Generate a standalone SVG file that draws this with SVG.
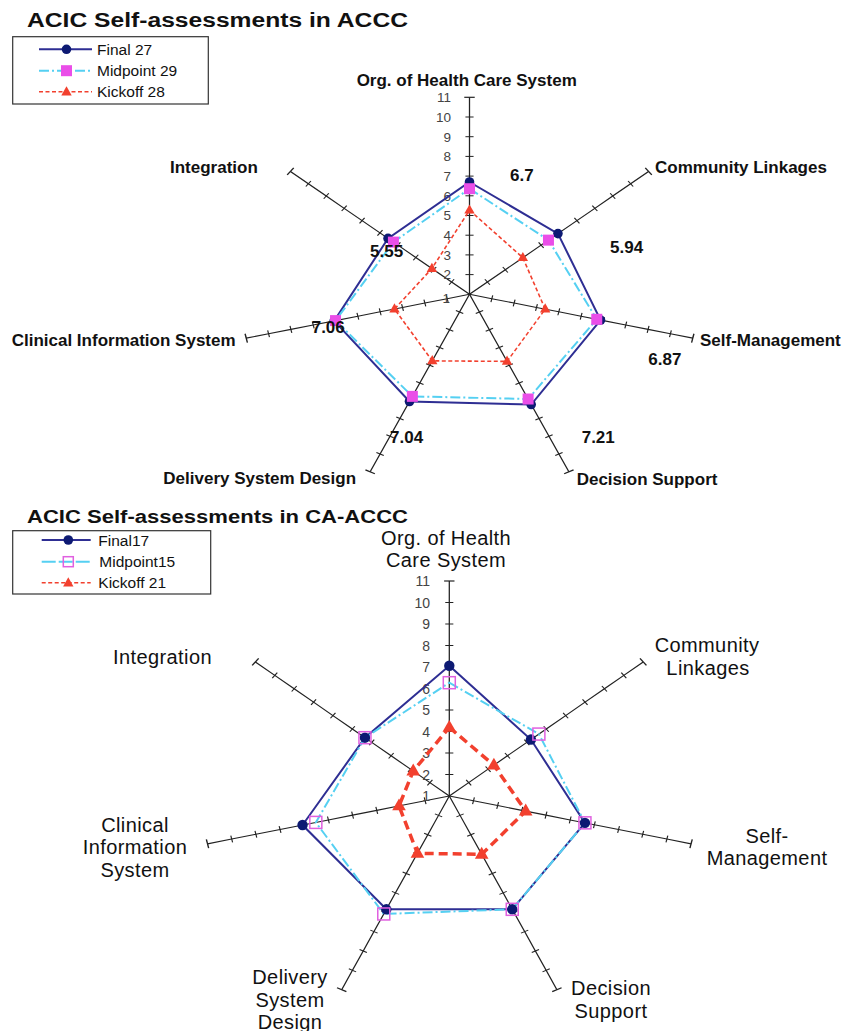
<svg xmlns="http://www.w3.org/2000/svg" xmlns:xlink="http://www.w3.org/1999/xlink" width="845" height="1031" viewBox="0 0 845 1031">
<style>
text{font-family:"Liberation Sans",Arial,Helvetica,sans-serif;fill:#111}
.ttl{font-weight:bold}
.lb{font-weight:bold;font-size:17px}
.lb2{font-size:20px;letter-spacing:0.4px;text-anchor:middle}
.num{font-size:13.5px;fill:#444;text-anchor:end}
.num2{font-size:14px;fill:#444;text-anchor:end}
.leg{font-size:15.5px}
.ax{fill:none;stroke:#222;stroke-width:1.1}
.box{fill:#fff;stroke:#333;stroke-width:1.2}
.fin{fill:none;stroke:#2e2e93;stroke-width:2}
.mid{fill:none;stroke:#55d0f2;stroke-width:2;stroke-dasharray:10 3 2 3}
.kick{fill:none;stroke:#f2402e;stroke-width:1.6;stroke-dasharray:4 2.5}
.kick2{fill:none;stroke:#f2402e;stroke-width:3.5;stroke-dasharray:9 5}
.dot{fill:#0d1a73}
.sq{fill:#ea4ee8}
.osq{fill:none;stroke:#e060e0;stroke-width:1.5}
.tri{fill:#f2402e}
</style>
<defs>
<marker id="tk" markerUnits="userSpaceOnUse" orient="auto" overflow="visible" markerWidth="1" markerHeight="1"><line x1="0" y1="-3.5" x2="0" y2="3.5" stroke="#222" stroke-width="1"/></marker>
<marker id="cap" markerUnits="userSpaceOnUse" orient="auto" overflow="visible" markerWidth="1" markerHeight="1"><line x1="0" y1="-4.5" x2="0" y2="4.5" stroke="#222" stroke-width="1.2"/></marker>
<polyline id="axT" class="ax" points="0,0 0,-19.7 0,-39.4 0,-59.1 0,-78.8 0,-98.5 0,-118.2 0,-137.9 0,-157.6 0,-177.3 0,-197" marker-mid="url(#tk)" marker-end="url(#cap)"/>
<polyline id="axB" class="ax" points="0,0 0,-21.5 0,-43 0,-64.5 0,-86 0,-107.5 0,-129 0,-150.5 0,-172 0,-193.5 0,-215" marker-mid="url(#tk)" marker-end="url(#cap)"/>
<circle id="dotT" r="4.8"/>
<circle id="dotB" r="5.2"/>
<rect id="sqT" x="-5.5" y="-5.5" width="11" height="11"/>
<rect id="sqB" x="-6" y="-6" width="12" height="12"/>
<path id="triT" d="M0,-5.8 L5.2,3.4 L-5.2,3.4Z"/>
<path id="triB" d="M0,-7.5 L6.8,4.4 L-6.8,4.4Z"/>
</defs>

<!-- ================= TOP CHART ================= -->
<g id="chart-top">
<text id="title-top" class="ttl" x="27" y="26.5" font-size="20" textLength="381" lengthAdjust="spacingAndGlyphs">ACIC Self-assessments in ACCC</text>

<g id="legend-top">
<rect class="box" x="12.7" y="36.7" width="195.6" height="67.3"/>
<line class="fin" x1="39" y1="49.3" x2="92" y2="49.3"/>
<use href="#dotT" x="66.5" y="49.3" class="dot"/>
<text class="leg" x="97" y="54.8">Final 27</text>
<line class="mid" x1="39" y1="70.7" x2="92" y2="70.7"/>
<use href="#sqT" x="66.5" y="70.7" class="sq"/>
<text class="leg" x="97" y="76.2">Midpoint 29</text>
<line class="kick" x1="39" y1="91.7" x2="92" y2="91.7"/>
<use href="#triT" x="66.5" y="92" class="tri"/>
<text class="leg" x="97" y="97.2">Kickoff 28</text>
</g>

<g id="axes-top" transform="translate(469.5 294.3) scale(1.1624 1)">
<use href="#axT"/>
<use href="#axT" transform="rotate(51.4286)"/>
<use href="#axT" transform="rotate(102.857)"/>
<use href="#axT" transform="rotate(154.286)"/>
<use href="#axT" transform="rotate(205.714)"/>
<use href="#axT" transform="rotate(257.143)"/>
<use href="#axT" transform="rotate(308.571)"/>
</g>

<g id="scale-top">
<text class="num" x="450" y="302.5">1</text>
<text class="num" x="451" y="279.4">2</text>
<text class="num" x="451" y="259.7">3</text>
<text class="num" x="451" y="240.0">4</text>
<text class="num" x="451" y="220.3">5</text>
<text class="num" x="451" y="200.6">6</text>
<text class="num" x="451" y="180.9">7</text>
<text class="num" x="451" y="161.2">8</text>
<text class="num" x="451" y="141.5">9</text>
<text class="num" x="451" y="121.8">10</text>
<text class="num" x="451" y="102.1">11</text>
</g>

<g id="series-top">
<polygon class="fin" points="469.5,182.0 557.95,233.62 600.55,320.03 531.2,404.52 409.49,401.5 334.2,320.87 388.04,238.41"/>
<polygon class="mid" points="469.5,188.71 548.46,240.13 596.76,319.29 528.12,399.02 412.37,396.36 335.54,320.6 393.41,242.1"/>
<polygon class="kick" points="469.5,210.18 522.85,257.7 545.19,309.16 507.06,361.39 432.24,360.86 394.48,309.03 431.9,268.51"/>
<g class="dot">
<use href="#dotT" x="469.5" y="182.0"/><use href="#dotT" x="557.95" y="233.62"/><use href="#dotT" x="600.55" y="320.03"/><use href="#dotT" x="531.2" y="404.52"/><use href="#dotT" x="409.49" y="401.5"/><use href="#dotT" x="334.2" y="320.87"/><use href="#dotT" x="388.04" y="238.41"/>
</g>
<g class="sq">
<use href="#sqT" x="469.5" y="188.71"/><use href="#sqT" x="548.46" y="240.13"/><use href="#sqT" x="596.76" y="319.29"/><use href="#sqT" x="528.12" y="399.02"/><use href="#sqT" x="412.37" y="396.36"/><use href="#sqT" x="335.54" y="320.6"/><use href="#sqT" x="393.41" y="242.1"/>
</g>
<g class="tri">
<use href="#triT" x="469.5" y="210.18"/><use href="#triT" x="522.85" y="257.7"/><use href="#triT" x="545.19" y="309.16"/><use href="#triT" x="507.06" y="361.39"/><use href="#triT" x="432.24" y="360.86"/><use href="#triT" x="394.48" y="309.03"/><use href="#triT" x="431.9" y="268.51"/>
</g>
</g>

<g id="labels-top">
<text id="t-org" class="lb" x="466.7" y="86" text-anchor="middle">Org. of Health Care System</text>
<text id="t-com" class="lb" x="655" y="172.5">Community Linkages</text>
<text id="t-self" class="lb" x="700" y="345.5">Self-Management</text>
<text id="t-dec" class="lb" x="576.7" y="484.5">Decision Support</text>
<text id="t-del" class="lb" x="163.3" y="483.8">Delivery System Design</text>
<text id="t-cis" class="lb" x="11.7" y="346">Clinical Information System</text>
<text id="t-int" class="lb" x="170" y="173.3">Integration</text>
</g>

<g id="values-top">
<text class="lb" x="510" y="180.7">6.7</text>
<text class="lb" x="610" y="252.7">5.94</text>
<text class="lb" x="648.3" y="365">6.87</text>
<text class="lb" x="581.7" y="443.3">7.21</text>
<text class="lb" x="390" y="442.7">7.04</text>
<text class="lb" x="311.7" y="332.7">7.06</text>
<text class="lb" x="370" y="257.3">5.55</text>
</g>
</g>

<!-- ================= BOTTOM CHART ================= -->
<g id="chart-bottom">
<text id="title-bottom" class="ttl" x="27" y="522.7" font-size="18" textLength="381" lengthAdjust="spacingAndGlyphs">ACIC Self-assessments in CA-ACCC</text>

<g id="legend-bottom">
<rect class="box" x="12.7" y="530.7" width="198" height="63.3"/>
<line class="fin" x1="41.7" y1="540" x2="90.7" y2="540"/>
<use href="#dotT" x="68.3" y="540" class="dot"/>
<text class="leg" x="98.3" y="545.5">Final17</text>
<line class="mid" x1="41.7" y1="561.7" x2="90.7" y2="561.7" style="stroke-dasharray:14 3"/>
<rect x="63.3" y="556.7" width="10" height="10" class="osq"/>
<text class="leg" x="99.3" y="567.2">Midpoint15</text>
<line class="kick" x1="41.7" y1="582.7" x2="90.7" y2="582.7"/>
<use href="#triT" x="68.3" y="583" class="tri"/>
<text class="leg" x="98.3" y="588.2">Kickoff 21</text>
</g>

<g id="axes-bottom" transform="translate(449.3 796) scale(1.1535 1)">
<use href="#axB"/>
<use href="#axB" transform="rotate(51.4286)"/>
<use href="#axB" transform="rotate(102.857)"/>
<use href="#axB" transform="rotate(154.286)"/>
<use href="#axB" transform="rotate(205.714)"/>
<use href="#axB" transform="rotate(257.143)"/>
<use href="#axB" transform="rotate(308.571)"/>
</g>

<g id="scale-bottom">
<text class="num2" x="430" y="801">1</text>
<text class="num2" x="430" y="779.5">2</text>
<text class="num2" x="430" y="758">3</text>
<text class="num2" x="430" y="736.5">4</text>
<text class="num2" x="430" y="715">5</text>
<text class="num2" x="430" y="693.5">6</text>
<text class="num2" x="430" y="672">7</text>
<text class="num2" x="430" y="650.5">8</text>
<text class="num2" x="430" y="629">9</text>
<text class="num2" x="430" y="607.5">10</text>
<text class="num2" x="430" y="586">11</text>
</g>

<g id="series-bottom">
<polygon class="fin" points="449.3,665.71 530.93,739.56 584.94,822.84 512.25,909.32 386.35,909.32 302.54,825.04 364.96,737.69"/>
<polygon class="mid" points="449.3,682.69 538.88,734.07 584.94,822.84 512.25,909.32 383.77,913.97 315.84,822.41 364.96,737.69"/>
<polygon class="kick2" points="449.3,727.41 493.89,765.17 525.7,811.12 481.69,854.31 417.45,853.34 399.01,805.95 413.24,771.07"/>
<g class="dot">
<use href="#dotB" x="449.3" y="665.71"/><use href="#dotB" x="530.93" y="739.56"/><use href="#dotB" x="584.94" y="822.84"/><use href="#dotB" x="512.25" y="909.32"/><use href="#dotB" x="386.35" y="909.32"/><use href="#dotB" x="302.54" y="825.04"/><use href="#dotB" x="364.96" y="737.69"/>
</g>
<g class="osq">
<use href="#sqB" x="449.3" y="682.69"/><use href="#sqB" x="538.88" y="734.07"/><use href="#sqB" x="584.94" y="822.84"/><use href="#sqB" x="512.25" y="909.32"/><use href="#sqB" x="383.77" y="913.97"/><use href="#sqB" x="315.84" y="822.41"/><use href="#sqB" x="364.96" y="737.69"/>
</g>
<g class="tri">
<use href="#triB" x="449.3" y="727.41"/><use href="#triB" x="493.89" y="765.17"/><use href="#triB" x="525.7" y="811.12"/><use href="#triB" x="481.69" y="854.31"/><use href="#triB" x="417.45" y="853.34"/><use href="#triB" x="399.01" y="805.95"/><use href="#triB" x="413.24" y="771.07"/>
</g>
</g>

<g id="labels-bottom">
<g id="b-org"><text class="lb2" x="446" y="544.5">Org. of Health</text><text class="lb2" x="446" y="567">Care System</text></g>
<g id="b-com"><text class="lb2" x="707" y="652">Community</text><text class="lb2" x="708" y="674.5">Linkages</text></g>
<g id="b-self"><text class="lb2" x="767" y="842.5">Self-</text><text class="lb2" x="767" y="865">Management</text></g>
<g id="b-dec"><text class="lb2" x="611" y="995">Decision</text><text class="lb2" x="611" y="1017.5">Support</text></g>
<g id="b-del"><text class="lb2" x="290" y="984">Delivery</text><text class="lb2" x="290" y="1006.5">System</text><text class="lb2" x="290" y="1029">Design</text></g>
<g id="b-cis"><text class="lb2" x="135" y="831.5">Clinical</text><text class="lb2" x="135" y="854">Information</text><text class="lb2" x="135" y="876.5">System</text></g>
<g id="b-int"><text class="lb2" x="162.5" y="664">Integration</text></g>
</g>
</g>
</svg>
